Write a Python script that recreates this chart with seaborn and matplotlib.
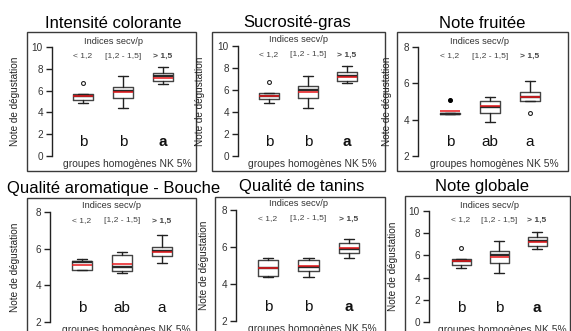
import matplotlib
matplotlib.use('Agg')
import matplotlib.pyplot as plt
import matplotlib.transforms as mtransforms
from matplotlib.patches import Rectangle
import seaborn as sns

sns.set_style('white')
plt.rcParams['font.family'] = ['Liberation Sans', 'DejaVu Sans']

# ── data ──
groups = ['< 1,2', '[1,2 - 1,5]', '> 1,5']

# Intensité colorante (same values appear for Sucrosité-gras and Note globale)
ic_lo = [4.85, 4.37, 6.60]
ic_q1 = [5.14, 5.29, 6.85]
ic_med = [5.50, 6.00, 7.30]
ic_q3 = [5.70, 6.36, 7.65]
ic_hi = [5.70, 7.30, 8.15]
ic_mean = [5.50, 5.85, 7.20]
ic_fliers = [[6.70], [], []]
ic_letters = ['b', 'b', 'a']

# Note fruitée
nf_lo = [4.33, 3.87, 5.04]
nf_q1 = [4.33, 4.38, 5.04]
nf_med = [4.33, 4.72, 5.23]
nf_q3 = [4.35, 5.05, 5.50]
nf_hi = [4.35, 5.23, 6.12]
nf_mean = [4.47, 4.74, 5.23]
nf_fliers = [[5.08], [], [4.37]]
nf_letters = ['b', 'ab', 'a']

# Qualité aromatique - Bouche
qa_lo = [4.84, 4.65, 5.24]
qa_q1 = [4.84, 4.80, 5.62]
qa_med = [5.25, 5.02, 5.89]
qa_q3 = [5.34, 5.65, 6.11]
qa_hi = [5.44, 5.84, 6.75]
qa_mean = [5.12, 5.16, 5.82]
qa_fliers = [[], [], []]
qa_letters = ['b', 'ab', 'a']

# Qualité de tanins
qt_lo = [4.40, 4.36, 5.39]
qt_q1 = [4.42, 4.70, 5.66]
qt_med = [4.85, 4.94, 5.89]
qt_q3 = [5.30, 5.30, 6.23]
qt_hi = [5.39, 5.39, 6.42]
qt_mean = [4.87, 4.98, 5.92]
qt_fliers = [[], [], []]
qt_letters = ['b', 'b', 'a']

W, H = 571, 331


def fx(x):
    return x / W


def fy(y):
    return 1 - y / H


def make_stats(lo, q1, med, q3, hi, mean, fliers):
    return [dict(whislo=lo[i], q1=q1[i], med=med[i], q3=q3[i], whishi=hi[i],
                 mean=mean[i], fliers=fliers[i]) for i in range(len(lo))]


panels = [
    dict(title='Intensité colorante', tx=113, ty=23, frame=(27, 32, 196, 171), spine=52,
         ytop=47, ybot=156, ylim=(0, 10), yticks=[0, 2, 4, 6, 8, 10], centers=(83, 163),
         ylx=15, stats=make_stats(ic_lo, ic_q1, ic_med, ic_q3, ic_hi, ic_mean, ic_fliers),
         letters=ic_letters, bold_a=True, filled=[False, False, False]),
    dict(title='Sucrosité-gras', tx=297, ty=23, frame=(212, 32, 385, 171), spine=238,
         ytop=46, ybot=156, ylim=(0, 10), yticks=[0, 2, 4, 6, 8, 10], centers=(269, 347),
         ylx=200, stats=make_stats(ic_lo, ic_q1, ic_med, ic_q3, ic_hi, ic_mean, ic_fliers),
         letters=ic_letters, bold_a=True, filled=[False, False, False]),
    dict(title='Note fruitée', tx=482, ty=23, frame=(397, 32, 568, 171), spine=418,
         ytop=47, ybot=156, ylim=(2, 8), yticks=[2, 4, 6, 8], centers=(450, 530),
         ylx=387, stats=make_stats(nf_lo, nf_q1, nf_med, nf_q3, nf_hi, nf_mean, nf_fliers),
         letters=nf_letters, bold_a=False, filled=[True, False, False]),
    dict(title='Qualité aromatique - Bouche', tx=114, ty=188, frame=(27, 198, 196, 345), spine=50,
         ytop=212, ybot=322, ylim=(2, 8), yticks=[2, 4, 6, 8], centers=(82, 162),
         ylx=15, stats=make_stats(qa_lo, qa_q1, qa_med, qa_q3, qa_hi, qa_mean, qa_fliers),
         letters=qa_letters, bold_a=False, filled=[False, False, False]),
    dict(title='Qualité de tanins', tx=302, ty=187, frame=(215, 197, 385, 345), spine=236,
         ytop=210, ybot=321, ylim=(2, 8), yticks=[2, 4, 6, 8], centers=(268, 349),
         ylx=204, stats=make_stats(qt_lo, qt_q1, qt_med, qt_q3, qt_hi, qt_mean, qt_fliers),
         letters=qt_letters, bold_a=True, filled=[False, False, False]),
    dict(title='Note globale', tx=482, ty=187, frame=(405, 196, 570, 345), spine=429,
         ytop=211, ybot=322, ylim=(0, 10), yticks=[0, 2, 4, 6, 8, 10], centers=(461, 537),
         ylx=393, stats=make_stats(ic_lo, ic_q1, ic_med, ic_q3, ic_hi, ic_mean, ic_fliers),
         letters=ic_letters, bold_a=True, filled=[False, False, False]),
]

fig = plt.figure(figsize=(W / 100, H / 100), dpi=100)
fig.patch.set_facecolor('white')

for p in panels:
    x0, y0, x1, y1 = p['frame']
    fig.add_artist(Rectangle((fx(x0), fy(y1)), fx(x1 - x0), (y1 - y0) / H,
                             transform=fig.transFigure, fill=False,
                             edgecolor='#3a3a3a', linewidth=1.0))

    right_px = x1 - 4
    c1, c3 = p['centers']
    s = (c3 - c1) / 2.0
    ax = fig.add_axes([fx(p['spine']), fy(p['ybot']), fx(right_px - p['spine']),
                       (p['ybot'] - p['ytop']) / H])
    ax.set_facecolor('none')
    ax.set_ylim(*p['ylim'])
    ax.set_xlim(1 - (c1 - p['spine']) / s, 1 + (right_px - c1) / s)

    bp = ax.bxp(p['stats'], positions=[1, 2, 3], widths=0.5, showmeans=True, meanline=True,
                patch_artist=False,
                boxprops=dict(color='#444444', linewidth=1.0),
                whiskerprops=dict(color='#222222', linewidth=1.0),
                capprops=dict(color='#222222', linewidth=1.0),
                medianprops=dict(color='#2a2a2a', linewidth=1.7),
                meanprops=dict(color='#e8191c', linewidth=1.1, linestyle='-'),
                flierprops=dict(marker='o', markersize=2.8, markerfacecolor='white',
                                markeredgecolor='#222222', markeredgewidth=0.8))
    for fl, filled in zip(bp['fliers'], p['filled']):
        if filled:
            fl.set_markerfacecolor('black')
            fl.set_markeredgecolor('black')
    for art in sum(bp.values(), []):
        art.set_clip_on(False)

    for side in ['top', 'right', 'bottom']:
        ax.spines[side].set_visible(False)
    ax.spines['left'].set_color('#222222')
    ax.spines['left'].set_linewidth(1.0)
    ax.set_xticks([])
    ax.set_yticks(p['yticks'])
    ax.set_yticklabels([str(t) for t in p['yticks']], fontsize=7.2, color='#333333')
    ax.tick_params(axis='y', direction='out', length=4, width=1.0, color='#222222', pad=2.5,
                   left=True)

    tr = mtransforms.blended_transform_factory(ax.transData, fig.transFigure)
    ax.text(1.75, fy(p['ytop'] - 6), 'Indices secv/p', transform=tr, ha='center', va='center',
            fontsize=6.7, color='#333333', clip_on=False)
    for i, g in enumerate(groups):
        ax.text(i + 1, fy(p['ytop'] + 9), g, transform=tr, ha='center', va='center',
                fontsize=6.1, color='#444444', clip_on=False,
                fontweight='bold' if i == 2 else 'normal')
    for i, let in enumerate(p['letters']):
        bold = p['bold_a'] and let == 'a'
        ax.text(i + 1, fy(p['ybot'] - 14), let, transform=tr, ha='center', va='center',
                fontsize=11, color='#111111', clip_on=False,
                fontweight='bold' if bold else 'normal')
    ax.text(2.1, fy(p['ybot'] + 8), 'groupes homogènes NK 5%', transform=tr, ha='center',
            va='center', fontsize=7.4, color='#333333', clip_on=False)

    fig.text(fx(p['ylx']), fy((p['ytop'] + p['ybot']) / 2), 'Note de dégustation',
             rotation=90, ha='center', va='center', fontsize=7.2, color='#222222')
    fig.text(fx(p['tx']), fy(p['ty']), p['title'], ha='center', va='center',
             fontsize=12, color='black')

fig.savefig('out.png', dpi=100, facecolor='white')
